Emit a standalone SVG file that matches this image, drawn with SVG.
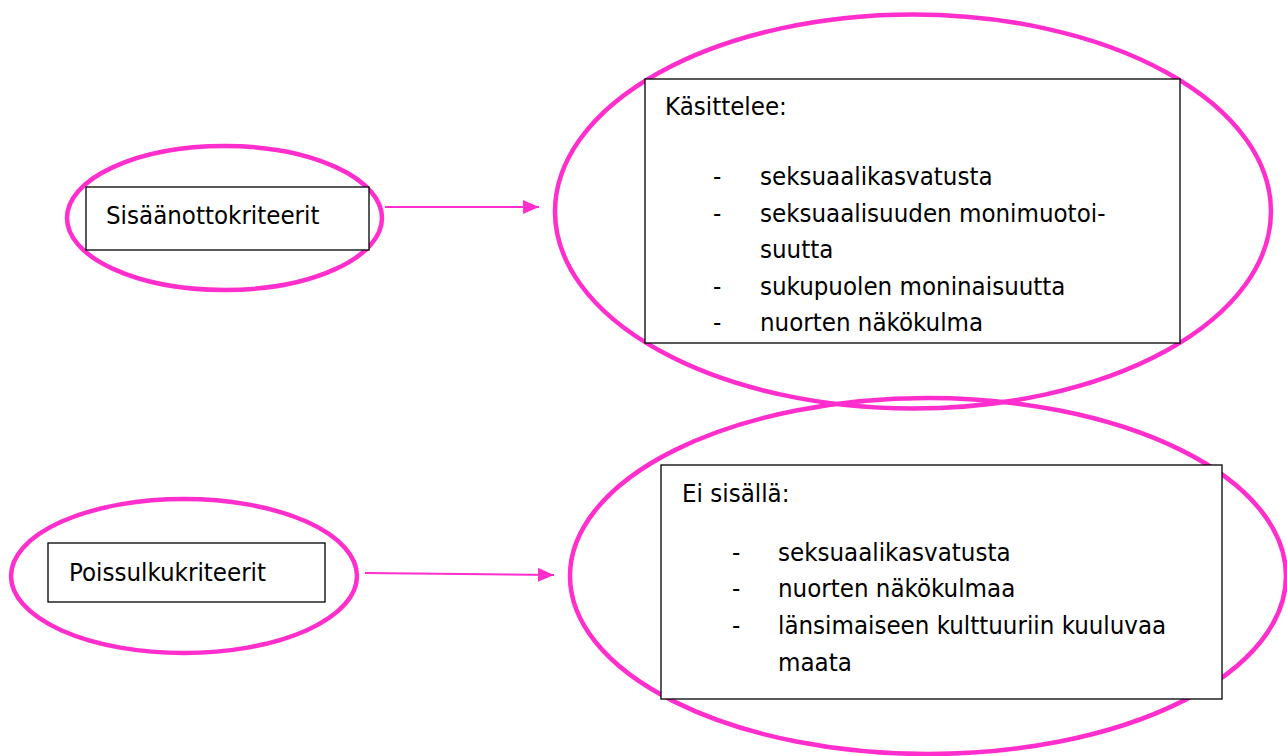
<svg xmlns="http://www.w3.org/2000/svg" width="1287" height="756" viewBox="0 0 1287 756">
<style>
.ell{fill:none;stroke:#ff2ecc;stroke-width:4.5}
.box{fill:#fff;stroke:#000;stroke-width:1.3}
.t{font-family:"DejaVu Sans Condensed","DejaVu Sans",sans-serif;font-size:25.6px;fill:#000}
.con{stroke:#ff2ecc;stroke-width:2;fill:none}
</style>
<defs>
<marker id="ah2" markerWidth="16" markerHeight="14" refX="16" refY="7" orient="auto" markerUnits="userSpaceOnUse">
<path d="M0,0 L16,7 L0,14 z" fill="#ff2ecc"/>
</marker>
</defs>
<rect width="1287" height="756" fill="#fff"/>
<g id="incl-ellipse">
<ellipse class="ell" cx="224.5" cy="218" rx="157.5" ry="72"/>
</g>
<g id="incl">
<rect class="box" x="86" y="187" width="283" height="63"/>
<text class="t" x="106" y="224">Sisäänottokriteerit</text>
</g>
<g id="incl-detail">
<ellipse class="ell" cx="913" cy="211.5" rx="358" ry="197"/>
<rect class="box" x="645" y="79" width="535" height="264"/>
<text class="t" x="665" y="115">Käsittelee:</text>
<text class="t" x="713" y="185">-</text>
<text class="t" x="760" y="185">seksuaalikasvatusta</text>
<text class="t" x="713" y="222">-</text>
<text class="t" x="760" y="222">seksuaalisuuden monimuotoi-</text>
<text class="t" x="760" y="258">suutta</text>
<text class="t" x="713" y="295">-</text>
<text class="t" x="760" y="295">sukupuolen moninaisuutta</text>
<text class="t" x="713" y="331">-</text>
<text class="t" x="760" y="331">nuorten näkökulma</text>
</g>
<g id="excl-ellipse">
<ellipse class="ell" cx="184" cy="576" rx="173" ry="77"/>
</g>
<g id="excl">
<rect class="box" x="48" y="543" width="277" height="59"/>
<text class="t" x="69" y="581">Poissulkukriteerit</text>
</g>
<g id="excl-detail">
<ellipse class="ell" cx="928" cy="576" rx="358" ry="178"/>
<rect class="box" x="661" y="465" width="561" height="234"/>
<text class="t" x="682" y="502">Ei sisällä:</text>
<text class="t" x="732" y="561">-</text>
<text class="t" x="778" y="561">seksuaalikasvatusta</text>
<text class="t" x="732" y="597">-</text>
<text class="t" x="778" y="597">nuorten näkökulmaa</text>
<text class="t" x="732" y="634">-</text>
<text class="t" x="778" y="634">länsimaiseen kulttuuriin kuuluvaa</text>
<text class="t" x="778" y="671">maata</text>
</g>
<g id="connectors">
<line class="con" x1="385" y1="207" x2="539" y2="207" marker-end="url(#ah2)"/>
<line class="con" x1="365" y1="573" x2="554" y2="575" marker-end="url(#ah2)"/>
</g>
</svg>
